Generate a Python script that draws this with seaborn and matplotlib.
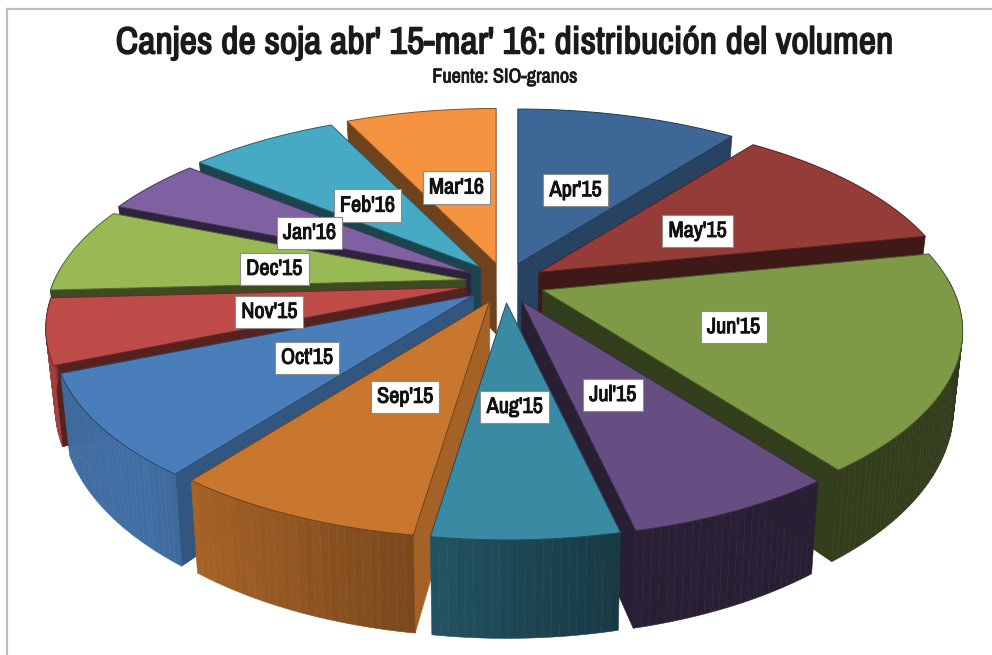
import numpy as np
import seaborn as sns
import matplotlib
matplotlib.use('Agg')
import matplotlib.pyplot as plt
import matplotlib.patheffects as pe

months = ["Apr'15", "May'15", "Jun'15", "Jul'15", "Aug'15", "Sep'15",
          "Oct'15", "Nov'15", "Dec'15", "Jan'16", "Feb'16", "Mar'16"]
shares = [10.4, 11.4, 18.0, 6.7, 5.9, 8.0, 8.4, 5.4, 7.1, 4.7, 7.0, 7.1]
top_colors = ['#3D6796', '#953C39', '#7E9A47', '#674E82', '#3A8AA3', '#C9772F',
              '#4A7EBB', '#BE4B48', '#98B954', '#7F60A0', '#46AAC4', '#F59240']
cut_shade = [0.65, 0.42, 0.40, 0.40, 0.50, 0.82, 0.68, 0.45, 0.40, 0.36, 0.40, 0.45]

title = "Canjes de soja abr' 15-mar' 16: distribución del volumen"
subtitle = 'Fuente: SIO-granos'

sns.set_theme(style='white')
plt.rcParams['font.family'] = ['Archivo Narrow', 'Liberation Sans', 'DejaVu Sans']
palette = sns.color_palette(top_colors)

W, H = 992, 655
LEFT, TOP = 7, 9
CX, CY = 505, 283
A, B, P = 411, 187.4, 0.209   # perspective of the pie plane
EXPLODE_X, EXPLODE_Y = 40, 20


def project(angle, r=1.0):
    # angle in degrees, clockwise from north, r in pie radii
    a = np.radians(angle)
    w = 1 + P * r * np.cos(a)
    return A * r * np.sin(a) / w, -B * r * np.cos(a) / w


def lower(x, y):
    # bottom of the pie under a point of the top face
    depth = 98 - 0.1 * (535 - y)
    return CX + (x - CX) * 0.98, y + depth


def scaled(color, f):
    return tuple(np.clip(np.array(color) * f, 0, 1))


def arc_shade(angle):
    return np.interp(angle, [90, 136, 165, 178, 190, 223, 251, 264, 267],
                     [0.38, 0.40, 0.40, 0.50, 0.62, 0.88, 0.85, 0.85, 0.40])


def heavy(width, color='#111111'):
    # the narrow font only has one weight here
    return [pe.withStroke(linewidth=width, foreground=color)]


fig = plt.figure(figsize=(W / 100, H / 100), dpi=100)
ax = fig.add_axes([LEFT / W, 0, 1 - LEFT / W, 1 - TOP / H])
ax.set_xlim(LEFT, W)
ax.set_ylim(H, TOP)
ax.set_xticks([])
ax.set_yticks([])
sns.despine(ax=ax, right=True, bottom=True, left=False, top=False)
for side in ['left', 'top']:
    ax.spines[side].set_color('#BDBDBD')
    ax.spines[side].set_linewidth(1.6)

ends = np.cumsum(shares) / np.sum(shares) * 360
starts = ends - np.array(shares) / np.sum(shares) * 360
mids = (starts + ends) / 2

# back slices first, front slices paint over them
for i in np.argsort(-np.cos(np.radians(mids))):
    color = palette[i]
    m = np.radians(mids[i])
    ax0 = CX + EXPLODE_X * np.sin(m)
    ay0 = CY - EXPLODE_Y * np.cos(m)
    theta = np.linspace(starts[i], ends[i], int(ends[i] - starts[i]) + 2)
    px, py = project(theta)
    xs, ys = ax0 + px, ay0 + py
    wall = scaled(color, cut_shade[i])

    # cut faces, only those turned to the viewer
    if np.sin(np.radians(starts[i])) < 0:
        quad_x = [ax0, xs[0], lower(xs[0], ys[0])[0], lower(ax0, ay0)[0]]
        quad_y = [ay0, ys[0], lower(xs[0], ys[0])[1], lower(ax0, ay0)[1]]
        ax.fill(quad_x, quad_y, color=wall, lw=0.5, zorder=2)
    if np.sin(np.radians(ends[i])) > 0:
        quad_x = [ax0, xs[-1], lower(xs[-1], ys[-1])[0], lower(ax0, ay0)[0]]
        quad_y = [ay0, ys[-1], lower(xs[-1], ys[-1])[1], lower(ax0, ay0)[1]]
        ax.fill(quad_x, quad_y, color=wall, lw=0.5, zorder=2)

    # outer wall as thin strips
    for j in range(len(theta) - 1):
        if np.cos(np.radians(theta[j])) > 0.05 and np.cos(np.radians(theta[j + 1])) > 0.05:
            continue
        shade = scaled(color, arc_shade((theta[j] + theta[j + 1]) / 2) * (1 + 0.01 * (j % 3 - 1)))
        bx0, by0 = lower(xs[j], ys[j])
        bx1, by1 = lower(xs[j + 1], ys[j + 1])
        ax.fill([xs[j], xs[j + 1], bx1, bx0], [ys[j], ys[j + 1], by1, by0],
                color=shade, lw=0.4, zorder=2)

    ax.fill(np.r_[ax0, xs], np.r_[ay0, ys], facecolor=color,
            edgecolor=scaled(color, 0.55), lw=0.7, zorder=2)

    # label on the middle of the slice
    lx, ly = project(mids[i], 0.48)
    ax.text(ax0 + lx, ay0 + ly + 4, months[i], ha='center', va='center', fontsize=16,
            color='#111111', zorder=5, path_effects=heavy(0.7),
            bbox=dict(boxstyle='square,pad=0.28', fc='white', ec='#8C8C8C', lw=0.8))

t = ax.text(504, 43, title, ha='center', va='center', fontsize=31, color='#1A1A1A',
            path_effects=heavy(1.1, '#1A1A1A'))
ax.text(505, 77, subtitle, ha='center', va='center', fontsize=14.5, color='#1A1A1A',
        path_effects=heavy(0.6, '#1A1A1A'))

# keep the title at the width it has in the chart
width = t.get_window_extent(fig.canvas.get_renderer()).width
t.set_fontsize(31 * 778 / width)

fig.savefig('out.png', dpi=100, facecolor='white')
